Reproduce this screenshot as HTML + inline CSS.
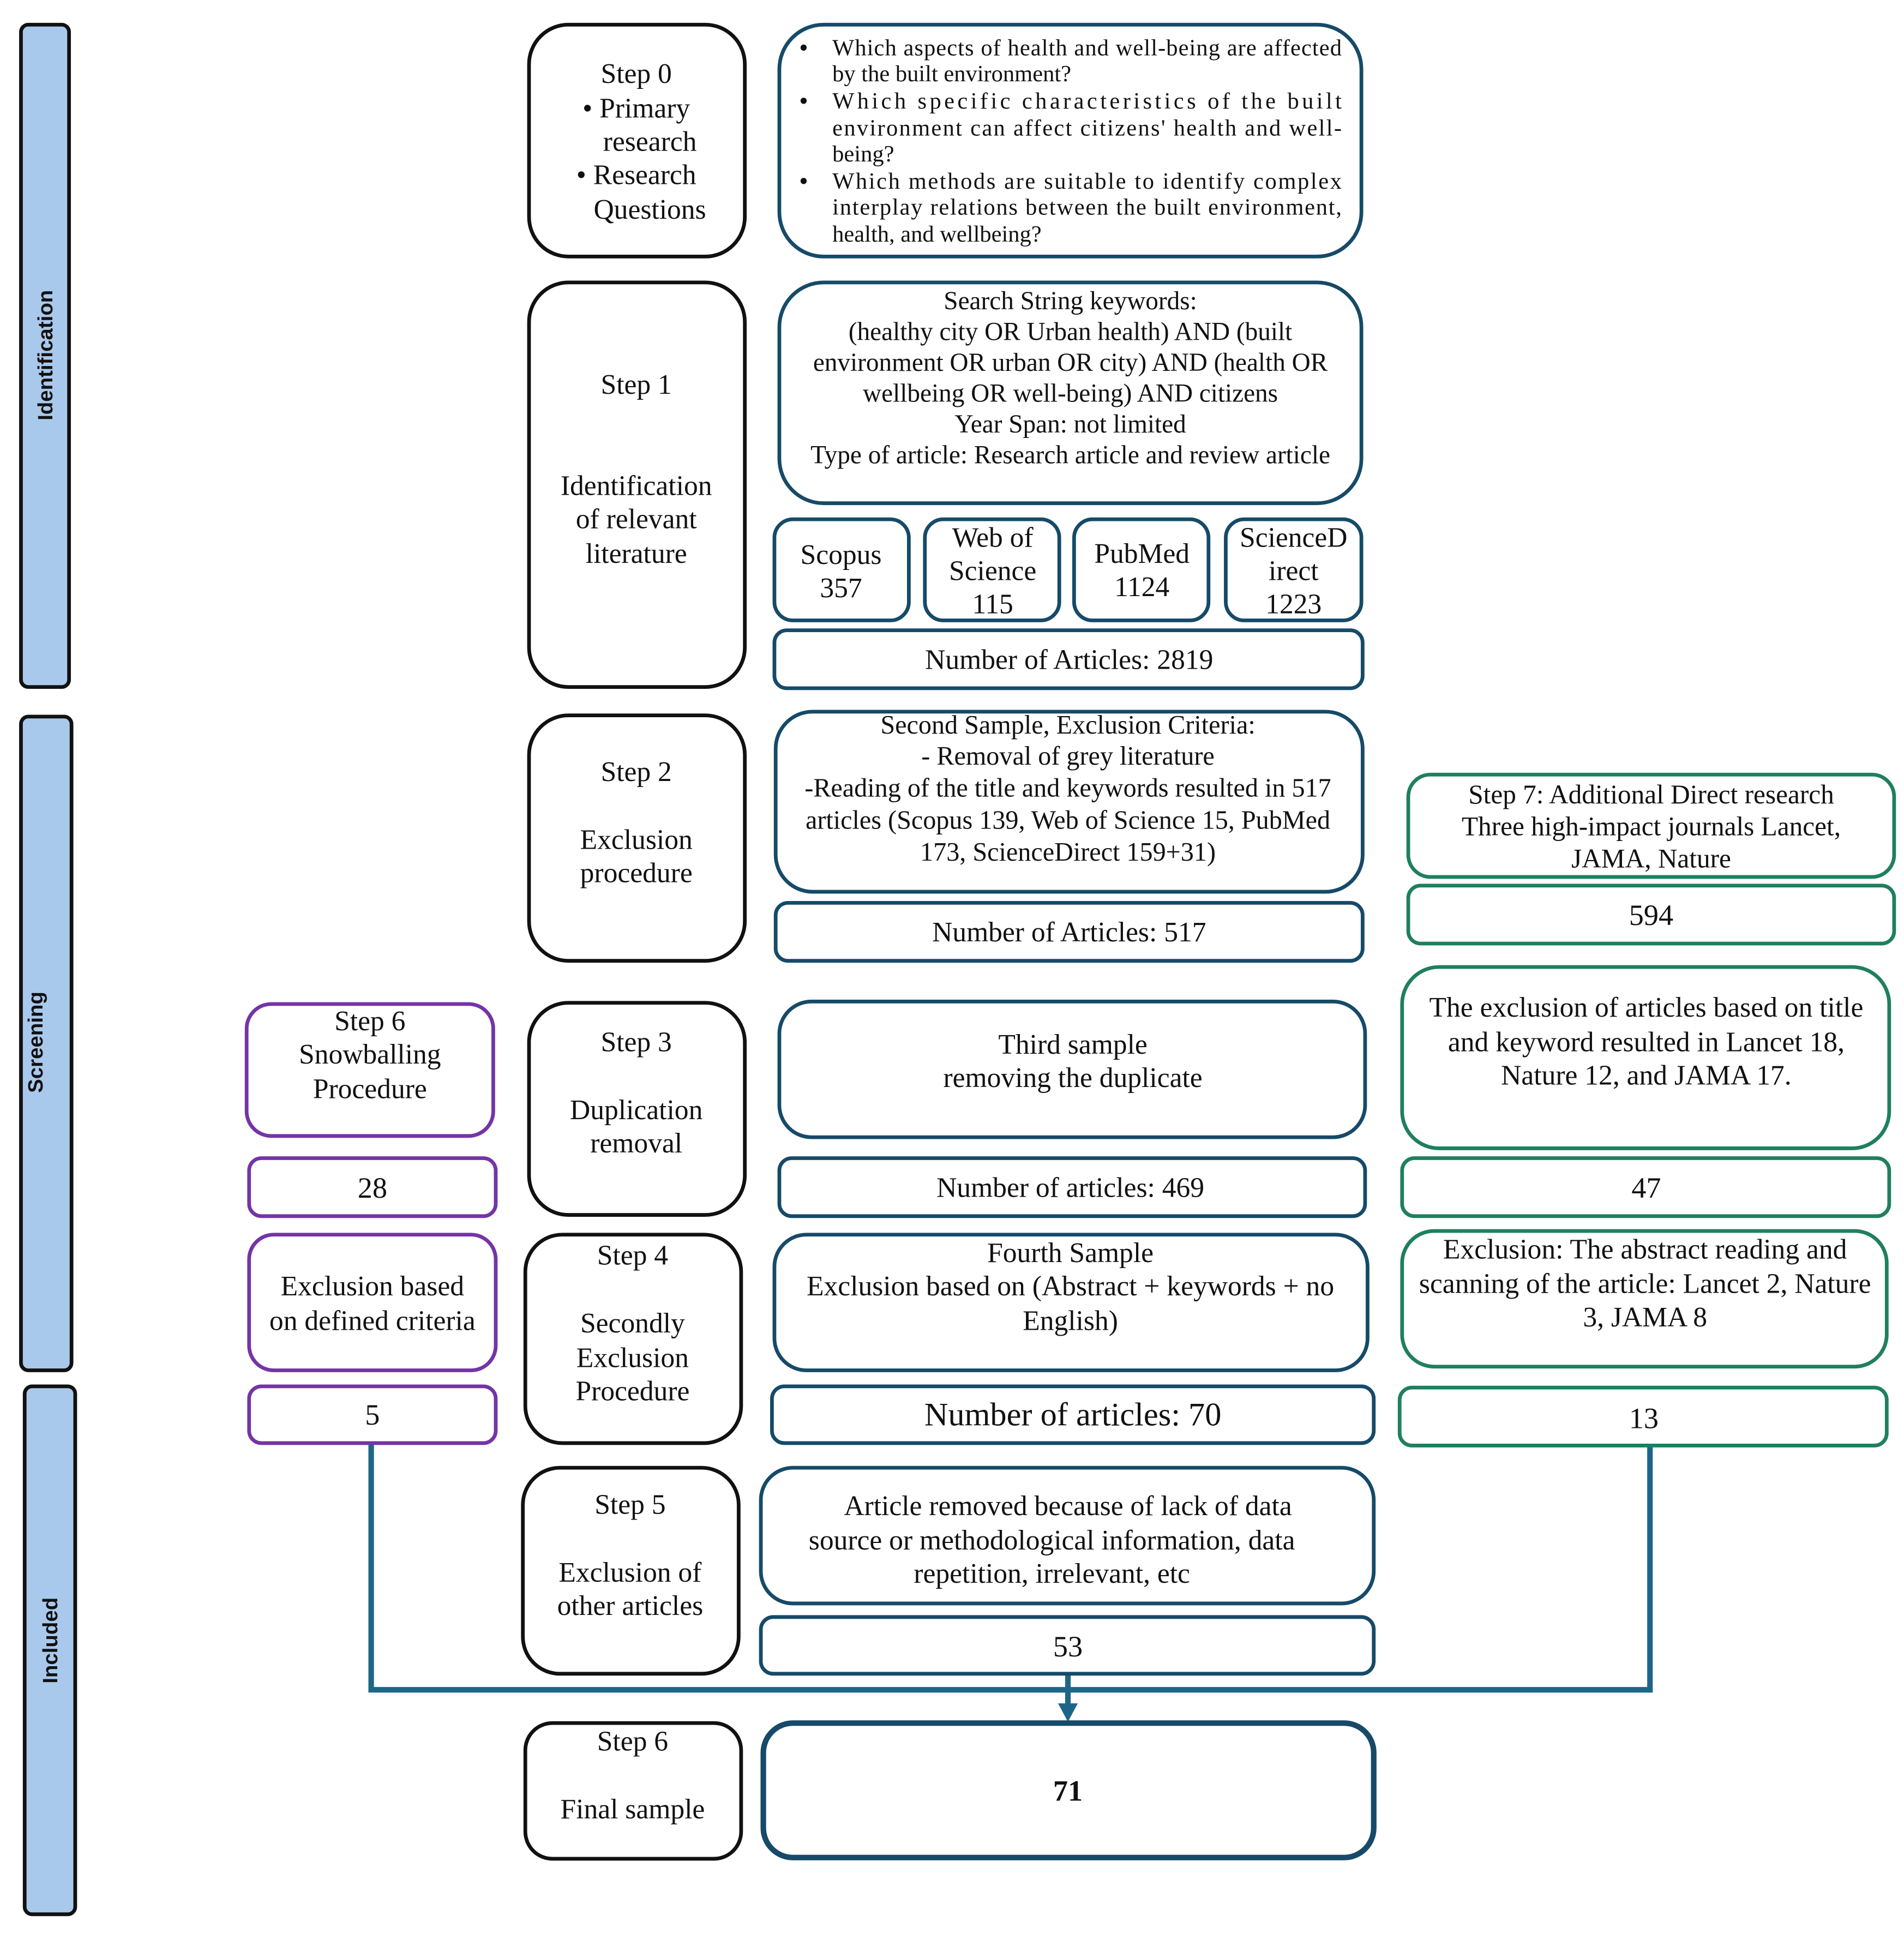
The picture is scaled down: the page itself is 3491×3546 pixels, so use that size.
<!DOCTYPE html>
<html><head><meta charset="utf-8"><style>
html,body{margin:0;padding:0;background:#fff;}
svg{display:block;}
text{font-family:"Liberation Serif",serif;font-size:22.8px;fill:#111;dominant-baseline:central;text-anchor:middle;}
text.q{font-size:18.8px;text-anchor:start;}
text.s{font-family:"Liberation Sans",sans-serif;font-weight:bold;font-size:17px;}
text.ss{font-size:20.9px;}
text.sc{font-size:21.3px;}
text.s7{font-size:21.8px;}
text.n{font-size:24px;}
.k{fill:#fff;stroke:#111;stroke-width:3;}
.t{fill:#fff;stroke:#164a68;stroke-width:3;}
.g{fill:#fff;stroke:#1f7f5f;stroke-width:3;}
.p{fill:#fff;stroke:#7434a6;stroke-width:3;}
.bar{fill:#a9c9ec;stroke:#111;stroke-width:3;}
</style></head><body>
<svg width="3491" height="3546" viewBox="0 0 1544 1568" preserveAspectRatio="none" xmlns="http://www.w3.org/2000/svg">
<rect class="bar" x="17" y="20" width="39" height="537" rx="6"/>
<rect class="bar" x="17" y="581" width="41" height="530" rx="6"/>
<rect class="bar" x="20" y="1124" width="41" height="428" rx="6"/>
<text class="s" transform="translate(37,288) rotate(-90)">Identification</text>
<text class="s" transform="translate(29,845) rotate(-90)">Screening</text>
<text class="s" transform="translate(41,1330) rotate(-90)">Included</text>

<polyline points="301,1170 301,1370 1338,1370 1338,1172" fill="none" stroke="#1d6688" stroke-width="4.5"/>
<line x1="866" y1="1357" x2="866" y2="1385" stroke="#1d6688" stroke-width="4.5"/>
<polygon points="858,1381 874,1381 866,1396" fill="#1d6688"/>

<rect class="k" x="429" y="20" width="175" height="188" rx="32"/>
<rect class="k" x="429" y="229" width="175" height="328" rx="32"/>
<rect class="k" x="429" y="580" width="175" height="199" rx="32"/>
<rect class="k" x="429" y="813" width="175" height="172" rx="32"/>
<rect class="k" x="426" y="1001" width="175" height="169" rx="30"/>
<rect class="k" x="424" y="1190" width="175" height="167" rx="30"/>
<rect class="k" x="426" y="1397" width="175" height="110" rx="22"/>

<text x="516" y="60">Step 0</text>
<text x="516" y="88">•  Primary</text>
<text x="527" y="115">research</text>
<text x="516" y="142">•  Research</text>
<text x="527" y="170">Questions</text>
<text x="516" y="312">Step 1</text>
<text x="516" y="394">Identification</text>
<text x="516" y="421">of relevant</text>
<text x="516" y="449">literature</text>
<text x="516" y="626">Step 2</text>
<text x="516" y="681">Exclusion</text>
<text x="516" y="708">procedure</text>
<text x="516" y="845">Step 3</text>
<text x="516" y="900">Duplication</text>
<text x="516" y="927">removal</text>
<text x="513" y="1018">Step 4</text>
<text x="513" y="1073">Secondly</text>
<text x="513" y="1101">Exclusion</text>
<text x="513" y="1128">Procedure</text>
<text x="511" y="1220">Step 5</text>
<text x="511" y="1275">Exclusion of</text>
<text x="511" y="1302">other articles</text>
<text x="513" y="1412">Step 6</text>
<text x="513" y="1467">Final sample</text>

<rect class="t" x="632" y="20" width="472" height="188" rx="36"/>
<text class="q" x="648" y="39" style="font-size:21px">•</text><text class="q" x="675" y="39" textLength="413" lengthAdjust="spacing">Which aspects of health and well-being are affected</text>
<text class="q" x="675" y="60">by the built environment?</text>
<text class="q" x="648" y="82" style="font-size:21px">•</text><text class="q" x="675" y="82" textLength="413" lengthAdjust="spacing">Which specific characteristics of the built</text>
<text class="q" x="675" y="104" textLength="413" lengthAdjust="spacing">environment can affect citizens' health and well-</text>
<text class="q" x="675" y="125">being?</text>
<text class="q" x="648" y="147" style="font-size:21px">•</text><text class="q" x="675" y="147" textLength="413" lengthAdjust="spacing">Which methods are suitable to identify complex</text>
<text class="q" x="675" y="168" textLength="413" lengthAdjust="spacing">interplay relations between the built environment,</text>
<text class="q" x="675" y="190">health, and wellbeing?</text>

<rect class="t" x="632" y="229" width="472" height="179" rx="36"/>
<text class="ss" x="868" y="244">Search String keywords:</text>
<text class="ss" x="868" y="269">(healthy city OR Urban health) AND (built</text>
<text class="ss" x="868" y="294">environment OR urban OR city) AND (health OR</text>
<text class="ss" x="868" y="319">wellbeing OR well-being) AND citizens</text>
<text class="ss" x="868" y="344">Year Span: not limited</text>
<text class="ss" x="868" y="369">Type of article: Research article and review article</text>

<rect class="t" x="628" y="421" width="109" height="82" rx="15"/>
<rect class="t" x="750" y="421" width="109" height="82" rx="15"/>
<rect class="t" x="871" y="421" width="109" height="82" rx="15"/>
<rect class="t" x="994" y="421" width="110" height="82" rx="15"/>
<text x="682" y="450">Scopus</text><text x="682" y="477">357</text>
<text x="805" y="436">Web of</text><text x="805" y="463">Science</text><text x="805" y="490">115</text>
<text x="926" y="449">PubMed</text><text x="926" y="476">1124</text>
<text x="1049" y="436">ScienceD</text><text x="1049" y="463">irect</text><text x="1049" y="490">1223</text>

<rect class="t" x="628" y="511" width="477" height="47" rx="10"/>
<text x="867" y="535">Number of Articles: 2819</text>

<rect class="t" x="629" y="577" width="476" height="146" rx="30"/>
<text class="sc" x="866" y="588">Second Sample, Exclusion Criteria:</text>
<text class="sc" x="866" y="613">- Removal of grey literature</text>
<text class="sc" x="866" y="639">-Reading of the title and keywords resulted in 517</text>
<text class="sc" x="866" y="665">articles (Scopus 139, Web of Science 15, PubMed</text>
<text class="sc" x="866" y="691">173, ScienceDirect 159+31)</text>
<rect class="t" x="629" y="732" width="476" height="47" rx="10"/>
<text x="867" y="756">Number of Articles: 517</text>

<rect class="t" x="632" y="812" width="475" height="110" rx="26"/>
<text x="870" y="847">Third sample</text>
<text x="870" y="874">removing the duplicate</text>
<rect class="t" x="632" y="939" width="475" height="47" rx="10"/>
<text x="868" y="963">Number of articles: 469</text>

<rect class="t" x="628" y="1001" width="481" height="110" rx="26"/>
<text x="868" y="1016">Fourth Sample</text>
<text x="868" y="1043">Exclusion based on (Abstract + keywords + no</text>
<text x="868" y="1071">English)</text>
<rect class="t" x="626" y="1124" width="488" height="46" rx="10"/>
<text x="870" y="1147" style="font-size:26.7px">Number of articles: 70</text>

<rect class="t" x="617" y="1190" width="497" height="110" rx="26"/>
<text x="866" y="1221">Article removed because of lack of data</text>
<text x="853" y="1249">source or methodological information, data</text>
<text x="853" y="1276">repetition, irrelevant, etc</text>
<rect class="t" x="617" y="1311" width="497" height="46" rx="10"/>
<text class="n" x="866" y="1335">53</text>

<rect x="619" y="1397" width="495" height="109" rx="24" fill="#fff" stroke="#164a68" stroke-width="4.5"/>
<text class="n" x="866" y="1452" font-weight="bold">71</text>

<rect class="g" x="1142" y="628" width="394" height="83" rx="18"/>
<text class="s7" x="1339" y="644">Step 7: Additional Direct research</text>
<text class="s7" x="1339" y="670">Three high-impact journals Lancet,</text>
<text class="s7" x="1339" y="696">JAMA, Nature</text>
<rect class="g" x="1142" y="718" width="394" height="47" rx="10"/>
<text class="n" x="1339" y="742">594</text>
<rect class="g" x="1137" y="784" width="395" height="147" rx="30"/>
<text x="1335" y="817">The exclusion of articles based on title</text>
<text x="1335" y="845">and keyword resulted in Lancet 18,</text>
<text x="1335" y="872">Nature 12, and JAMA 17.</text>
<rect class="g" x="1137" y="939" width="395" height="47" rx="10"/>
<text class="n" x="1335" y="963">47</text>
<rect class="g" x="1137" y="998" width="393" height="110" rx="26"/>
<text x="1334" y="1013">Exclusion: The abstract reading and</text>
<text x="1334" y="1041">scanning of the article: Lancet 2, Nature</text>
<text x="1334" y="1068">3, JAMA 8</text>
<rect class="g" x="1135" y="1125" width="395" height="47" rx="10"/>
<text class="n" x="1333" y="1150">13</text>

<rect class="p" x="200" y="814" width="200" height="107" rx="20"/>
<text x="300" y="828">Step 6</text>
<text x="300" y="855">Snowballing</text>
<text x="300" y="883">Procedure</text>
<rect class="p" x="202" y="939" width="200" height="47" rx="10"/>
<text class="n" x="302" y="963">28</text>
<rect class="p" x="202" y="1001" width="200" height="110" rx="20"/>
<text x="302" y="1043">Exclusion based</text>
<text x="302" y="1071">on defined criteria</text>
<rect class="p" x="202" y="1124" width="200" height="46" rx="10"/>
<text class="n" x="302" y="1147">5</text>
</svg>
</body></html>
